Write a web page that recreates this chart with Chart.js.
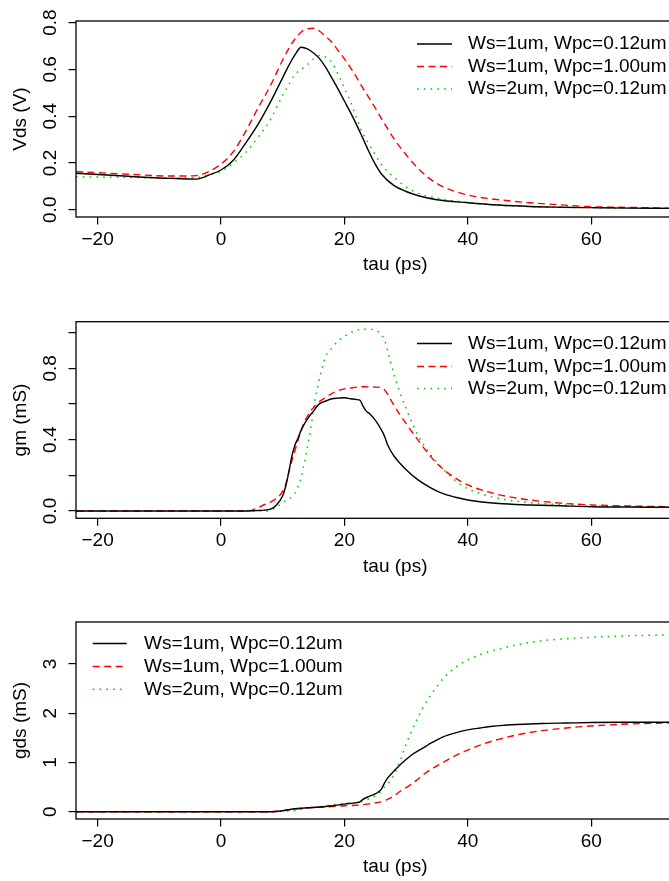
<!DOCTYPE html>
<html>
<head>
<meta charset="utf-8">
<script src="https://cdn.jsdelivr.net/npm/chart.js@4.4.1/dist/chart.umd.min.js"></script>
<style>
  html, body { margin: 0; padding: 0; background: #fff; overflow: hidden; width: 669px; height: 881px; }
  canvas.panel { position: absolute; left: 0; }
</style>
</head>
<body>
<canvas id="vds" class="panel" style="top:0px"></canvas>
<canvas id="gm" class="panel" style="top:300px"></canvas>
<canvas id="gds" class="panel" style="top:600px"></canvas>
<script>
// Device variants (one line per variant in every panel)
const seriesLabels = ['Ws=1um, Wpc=0.12um', 'Ws=1um, Wpc=1.00um', 'Ws=2um, Wpc=0.12um'];

// Shared x axis ticks (tau, ps)
const xTicks = [-20, 0, 20, 40, 60];

// ---- Panel 1: drain voltage Vds (V) ----
const tauVds = [-23.5, -15, -8, -4, -3, -2, 0, 2, 4, 6, 8, 10, 11, 12, 13, 14, 15, 16, 17, 18, 19, 20,
                21, 22, 23, 24, 25, 26, 28, 30, 32, 35, 40, 45, 50, 55, 60, 66, 72.6, 80];
const vdsWs1Wpc012 = [0.156, 0.143, 0.134, 0.131, 0.137, 0.148, 0.170, 0.212, 0.285, 0.365, 0.460, 0.565, 0.617, 0.663, 0.695, 0.688, 0.670, 0.645, 0.608, 0.562, 0.515, 0.465,
                      0.415, 0.362, 0.305, 0.247, 0.195, 0.153, 0.104, 0.078, 0.060, 0.043, 0.030, 0.020, 0.014, 0.011, 0.009, 0.007, 0.006, 0.005];
const vdsWs1Wpc100 = [0.163, 0.152, 0.144, 0.146, 0.152, 0.163, 0.195, 0.248, 0.335, 0.435, 0.530, 0.640, 0.690, 0.730, 0.760, 0.774, 0.776, 0.763, 0.740, 0.715, 0.680, 0.645,
                      0.607, 0.565, 0.520, 0.478, 0.435, 0.390, 0.305, 0.235, 0.175, 0.112, 0.063, 0.043, 0.030, 0.021, 0.013, 0.010, 0.007, 0.006];
const vdsWs2Wpc012 = [0.141, 0.138, 0.136, 0.138, 0.143, 0.150, 0.165, 0.200, 0.245, 0.310, 0.385, 0.490, 0.536, 0.578, 0.600, 0.620, 0.645, 0.660, 0.652, 0.628, 0.578, 0.520,
                      0.462, 0.390, 0.325, 0.280, 0.235, 0.193, 0.140, 0.098, 0.070, 0.050, 0.031, 0.020, 0.014, 0.011, 0.009, 0.007, 0.006, 0.005];
const vdsTicks = [0, 0.2, 0.4, 0.6, 0.8];

// ---- Panel 2: transconductance gm (mS) ----
const tauGm = [-23.5, 0, 4, 5, 6, 7, 8, 9, 10, 10.5, 11, 11.5, 12, 12.5, 13, 13.5, 14, 14.5, 15, 15.5,
               16, 17, 18, 19, 20, 21, 22, 22.5, 23, 23.5, 24, 25, 26, 26.5, 27, 28, 29, 30, 32, 34,
               36, 38, 40, 45, 50, 55, 60, 66, 72.6, 80];
const gmWs1Wpc012 = [0, 0, 0, 0.001, 0.003, 0.005, 0.010, 0.034, 0.085, 0.140, 0.220, 0.310, 0.370, 0.410, 0.455, 0.487, 0.515, 0.540, 0.560, 0.585,
                     0.602, 0.617, 0.630, 0.633, 0.635, 0.630, 0.625, 0.622, 0.590, 0.562, 0.548, 0.510, 0.455, 0.420, 0.372, 0.310, 0.268, 0.232, 0.173, 0.130,
                     0.097, 0.077, 0.062, 0.042, 0.034, 0.029, 0.024, 0.022, 0.021, 0.020];
const gmWs1Wpc100 = [0, 0, 0, 0.005, 0.018, 0.035, 0.050, 0.071, 0.110, 0.150, 0.220, 0.285, 0.340, 0.400, 0.450, 0.500, 0.530, 0.560, 0.580, 0.600,
                     0.615, 0.638, 0.660, 0.675, 0.685, 0.690, 0.695, 0.697, 0.697, 0.697, 0.696, 0.695, 0.692, 0.680, 0.655, 0.595, 0.540, 0.490, 0.395, 0.305,
                     0.235, 0.185, 0.146, 0.092, 0.062, 0.044, 0.034, 0.028, 0.024, 0.022];
const gmWs2Wpc012 = [0, 0, 0, 0, 0, 0, 0.002, 0.024, 0.045, 0.060, 0.070, 0.078, 0.100, 0.140, 0.190, 0.270, 0.360, 0.450, 0.575, 0.670,
                     0.750, 0.870, 0.915, 0.955, 0.980, 1.000, 1.015, 1.018, 1.020, 1.020, 1.020, 1.015, 0.990, 0.960, 0.900, 0.770, 0.665, 0.575, 0.420, 0.315,
                     0.235, 0.170, 0.125, 0.071, 0.047, 0.035, 0.028, 0.024, 0.021, 0.020];
const gmTicks = [0, 0.2, 0.4, 0.6, 0.8, 1.0];
const gmLabelled = [0, 0.4, 0.8];

// ---- Panel 3: output conductance gds (mS) ----
const tauGds = [-23.5, 0, 8, 10, 12, 14, 16, 18, 20, 22, 22.5, 23, 24, 25, 25.5, 26, 26.5, 27, 28, 29,
                30, 31, 32, 33, 34, 35, 36, 38, 40, 42, 44, 46, 48, 52, 56, 60, 66, 72.6, 80];
const gdsWs1Wpc012 = [0, 0, 0, 0.020, 0.060, 0.080, 0.095, 0.120, 0.155, 0.185, 0.200, 0.250, 0.310, 0.360, 0.400, 0.460, 0.580, 0.680, 0.820, 0.950,
                      1.060, 1.160, 1.240, 1.310, 1.390, 1.457, 1.520, 1.600, 1.660, 1.700, 1.735, 1.755, 1.770, 1.790, 1.800, 1.810, 1.815, 1.817, 1.820];
const gdsWs1Wpc100 = [0, 0, 0, 0.020, 0.055, 0.080, 0.090, 0.105, 0.120, 0.130, 0.135, 0.140, 0.160, 0.180, 0.190, 0.205, 0.225, 0.250, 0.320, 0.410,
                      0.490, 0.570, 0.670, 0.770, 0.855, 0.930, 1.000, 1.140, 1.250, 1.350, 1.435, 1.500, 1.560, 1.645, 1.700, 1.740, 1.780, 1.800, 1.810];
const gdsWs2Wpc012 = [0, 0, 0, 0.010, 0.030, 0.070, 0.100, 0.140, 0.165, 0.190, 0.200, 0.220, 0.260, 0.320, 0.360, 0.420, 0.500, 0.560, 0.750, 1.020,
                      1.370, 1.670, 1.930, 2.170, 2.370, 2.540, 2.700, 2.930, 3.080, 3.190, 3.270, 3.330, 3.390, 3.470, 3.510, 3.540, 3.570, 3.590, 3.610];
const gdsTicks = [0, 1, 2, 3];

// ---- Styling ----
const lineColors = ['#000000', '#FF0000', '#00CD00'];
const lineDashes = [[], [7, 4.5], [1.6, 5.2]];
const lineWidths = [1.4, 1.4, 1.5];
const FONT_FAMILY = '"Liberation Sans", Arial, Helvetica, sans-serif';
const FONT_SIZE = 19;

Chart.defaults.color = '#000';
Chart.defaults.font.family = FONT_FAMILY;
Chart.defaults.font.size = FONT_SIZE;

// Canvas and plot-region geometry
const W = 730, H = 300;
const PLOT_LEFT = 76;
const X_MIN = -23.5, X_MAX = 80;
const X_PX = 6.17;           // pixels per ps
const TICK_LEN = 7.5;
const Y_LABEL_CENTER = 50.5; // x of rotated y tick labels
const Y_TITLE_CENTER = 21;   // x of y axis title
const X_TITLE_GAP = 48;      // from plot bottom to x title centre

const minusSign = s => String(s).replace('-', '\u2212');

// Plot frame around the data region
const framePlugin = {
  id: 'frame',
  afterDatasetsDraw(chart) {
    const { ctx, chartArea: a } = chart;
    ctx.save();
    ctx.strokeStyle = '#000';
    ctx.lineWidth = 1.3;
    ctx.strokeRect(a.left, a.top, a.right - a.left, a.bottom - a.top);
    ctx.restore();
  }
};

// Line-sample key drawn inside the plot region
const keyPlugin = {
  id: 'seriesKey',
  afterDraw(chart, args, opts) {
    const { ctx } = chart;
    ctx.save();
    chart.data.datasets.forEach((ds, i) => {
      const y = opts.rows[i];
      ctx.beginPath();
      ctx.strokeStyle = ds.borderColor;
      ctx.lineWidth = ds.borderWidth;
      ctx.setLineDash(ds.borderDash || []);
      ctx.moveTo(opts.lineX, y);
      ctx.lineTo(opts.lineX + opts.lineLen, y);
      ctx.stroke();
      ctx.setLineDash([]);
      ctx.fillStyle = '#000';
      ctx.font = FONT_SIZE + 'px ' + FONT_FAMILY;
      ctx.textAlign = 'left';
      ctx.textBaseline = 'middle';
      ctx.fillText(ds.label, opts.textX, y);
    });
    ctx.restore();
  }
};

function drawPanel(id, cfg) {
  const canvas = document.getElementById(id);
  canvas.width = W;
  canvas.height = H;
  const plotRight = PLOT_LEFT + (X_MAX - X_MIN) * X_PX;

  const meas = document.createElement('canvas').getContext('2d');
  meas.font = FONT_SIZE + 'px ' + FONT_FAMILY;
  const widest = Math.max(...cfg.yTicks.map(v => meas.measureText(cfg.yFmt(v)).width));
  const yLabelPad = PLOT_LEFT - TICK_LEN - Y_LABEL_CENTER - widest / 2;
  const lh = FONT_SIZE * 1.2;

  const datasets = cfg.series.map((ys, i) => ({
    label: seriesLabels[i],
    data: cfg.tau.map((t, k) => ({ x: t, y: ys[k] })),
    borderColor: lineColors[i],
    borderDash: lineDashes[i],
    borderWidth: lineWidths[i],
    pointRadius: 0,
    fill: false,
    cubicInterpolationMode: 'monotone'
  }));

  new Chart(canvas, {
    type: 'line',
    data: { datasets },
    options: {
      responsive: false,
      animation: false,
      devicePixelRatio: 1,
      layout: { padding: { left: 0, right: W - plotRight, top: cfg.top, bottom: 0 } },
      plugins: {
        legend: { display: false },
        tooltip: { enabled: false },
        seriesKey: cfg.key
      },
      scales: {
        x: {
          type: 'linear',
          min: X_MIN,
          max: X_MAX,
          afterBuildTicks: s => { s.ticks = xTicks.map(v => ({ value: v })); },
          afterFit: s => {
            s.height = H - cfg.top - cfg.plotH;
            s.paddingLeft = 0; s.paddingRight = 0;
          },
          ticks: { autoSkip: false, maxRotation: 0, minRotation: 0, padding: 4, callback: v => minusSign(v) },
          grid: { drawOnChartArea: false, drawTicks: true, tickLength: TICK_LEN, color: '#000', lineWidth: 1.2 },
          border: { display: false },
          title: {
            display: true,
            text: 'tau (ps)',
            padding: { top: 0, bottom: H - (cfg.top + cfg.plotH + X_TITLE_GAP) - lh / 2 }
          }
        },
        y: {
          type: 'linear',
          min: cfg.yMin,
          max: cfg.yMax,
          afterBuildTicks: s => { s.ticks = cfg.yTicks.map(v => ({ value: v })); },
          afterFit: s => {
            s.width = PLOT_LEFT;
            s.paddingTop = 0; s.paddingBottom = 0;
          },
          ticks: {
            autoSkip: false,
            minRotation: 90,
            maxRotation: 90,
            crossAlign: 'center',
            padding: yLabelPad,
            callback: v => cfg.yFmt(v)
          },
          grid: { drawOnChartArea: false, drawTicks: true, tickLength: TICK_LEN, color: '#000', lineWidth: 1.2 },
          border: { display: false },
          title: {
            display: true,
            text: cfg.yTitle,
            padding: { top: Y_TITLE_CENTER - lh / 2, bottom: 0 }
          }
        }
      }
    },
    plugins: [framePlugin, keyPlugin]
  });
}

drawPanel('vds', {
  tau: tauVds,
  series: [vdsWs1Wpc012, vdsWs1Wpc100, vdsWs2Wpc012],
  yMin: -0.031, yMax: 0.807,
  yTicks: vdsTicks,
  yFmt: v => v.toFixed(1),
  yTitle: 'Vds (V)',
  top: 21, plotH: 196,
  key: { lineX: 417, lineLen: 35, textX: 468, rows: [44, 66.5, 89] }
});

drawPanel('gm', {
  tau: tauGm,
  series: [gmWs1Wpc012, gmWs1Wpc100, gmWs2Wpc012],
  yMin: -0.041, yMax: 1.062,
  yTicks: gmTicks,
  yFmt: v => (gmLabelled.some(l => Math.abs(l - v) < 1e-9) ? v.toFixed(1) : ''),
  yTitle: 'gm (mS)',
  top: 21.7, plotH: 196.6,
  key: { lineX: 417, lineLen: 35, textX: 468, rows: [43.5, 66.5, 88.5] }
});

drawPanel('gds', {
  tau: tauGds,
  series: [gdsWs1Wpc012, gdsWs1Wpc100, gdsWs2Wpc012],
  yMin: -0.148, yMax: 3.85,
  yTicks: gdsTicks,
  yFmt: v => String(v),
  yTitle: 'gds (mS)',
  top: 22, plotH: 197,
  key: { lineX: 92.7, lineLen: 34, textX: 144, rows: [43.5, 66.5, 89.3] }
});
</script>
</body>
</html>
